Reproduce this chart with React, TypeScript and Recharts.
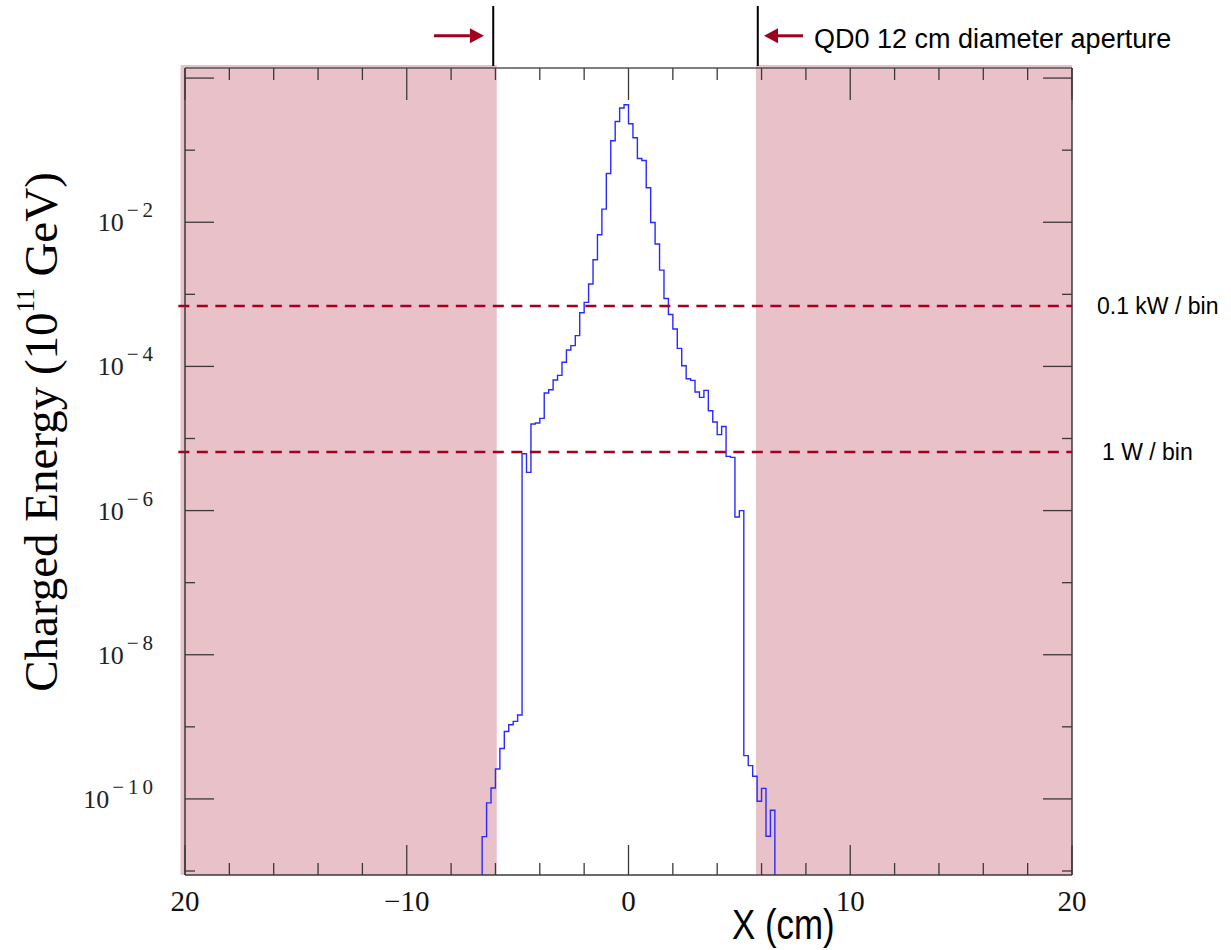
import React from "react";
import { LineChart, Line, XAxis, YAxis, ReferenceArea, ReferenceLine } from "recharts";

// histogram bin edges (cm), 0.2 cm bins
const binEdges = [
  -6.6, -6.4, -6.2, -6.0, -5.8, -5.6, -5.4, -5.2, -5.0, -4.8, -4.6, -4.4, -4.2, -4.0, -3.8, -3.6, -3.4,
  -3.2, -3.0, -2.8, -2.6, -2.4, -2.2, -2.0, -1.8, -1.6, -1.4, -1.2, -1.0, -0.8, -0.6, -0.4, -0.2, 0,
  0.2, 0.4, 0.6, 0.8, 1.0, 1.2, 1.4, 1.6, 1.8, 2.0, 2.2, 2.4, 2.6, 2.8, 3.0, 3.2, 3.4, 3.6, 3.8, 4.0,
  4.2, 4.4, 4.6, 4.8, 5.0, 5.2, 5.4, 5.6, 5.8, 6.0, 6.2, 6.4, 6.6,
];

// charged energy per bin (10^11 GeV), one value per bin
const binEnergy = [
  3.0e-11, 8.8e-11, 1.42e-10, 2.6e-10, 5.0e-10, 8.6e-10, 1.07e-9, 1.19e-9, 1.46e-9,
  6.15e-6, 3.39e-6, 1.59e-5, 1.64e-5, 1.9e-5, 4.28e-5, 4.75e-5, 6.47e-5, 7.5e-5, 1.14e-4, 1.69e-4,
  1.94e-4, 2.67e-4, 5.56e-4, 7.73e-4, 1.39e-3, 3.02e-3, 6.71e-3, 1.52e-2, 4.75e-2, 0.135, 0.25,
  0.384, 0.427,
  0.232, 0.149, 7.67e-2, 7.19e-2, 3.01e-2, 9.93e-3, 4.99e-3, 2.17e-3, 8.77e-4, 5.26e-4, 3.3e-4,
  1.78e-4, 1.02e-4, 6.75e-5, 6.4e-5, 4.42e-5, 3.72e-5, 4.65e-5, 2.43e-5, 1.69e-5, 1.13e-5, 1.47e-5,
  5.65e-6, 5.47e-6, 8.15e-7, 9.98e-7, 3.98e-10, 2.9e-10, 2.06e-10, 9.27e-11, 1.4e-10, 3.03e-11,
  6.95e-11,
];
const EMPTY = 1e-13; // empty bins sit below the axis

const xTicks = [-20, -18, -16, -14, -12, -10, -8, -6, -4, -2, 0, 2, 4, 6, 8, 10, 12, 14, 16, 18, 20];
const xLabelAt = [-20, -10, 0, 10, 20];
const xLabelText = ["20", "\u221210", "0", "10", "20"];

const yTicks = [1e-11, 1e-10, 1e-9, 1e-8, 1e-7, 1e-6, 1e-5, 1e-4, 1e-3, 1e-2, 1e-1, 1];
const yDomain = [8.8e-12, 1.38];

// power thresholds
const powerLevels = [6.9e-4, 6.5e-6];
const powerLabels = ["0.1 kW / bin", "1 W / bin"];

// outside the QD0 aperture
const shadedLeft = [-20.2, -5.94];
const shadedRight = [5.75, 20];
const apertureEdges = [-6.1, 5.83];

const PLOT_TOP = 68;
const FRAME = "#3a3a3a";
const ARROW = "#a0001e";
const DASH = "#a50021";
const SHADE = "rgb(170,15,45)";
const SERIF = "'Liberation Serif', 'Times New Roman', serif";
const SANS = "'Liberation Sans', Arial, sans-serif";

const rows = [
  { x: binEdges[0], e: EMPTY },
  ...binEnergy.map((e, i) => ({ x: binEdges[i], e })),
  { x: binEdges[binEdges.length - 1], e: EMPTY },
];

const isMajorX = (v: number) => Math.abs(v % 10) < 1e-9;

// bottom ticks also draw the matching mark on the top frame
function BottomTick({ x, y, payload }: any) {
  const v = payload.value;
  const idx = xLabelAt.indexOf(v);
  const major = isMajorX(v);
  return (
    <g>
      <line x1={x} x2={x} y1={y} y2={y - (major ? 30 : 12)} stroke={FRAME} strokeWidth={1.3} />
      <line x1={x} x2={x} y1={PLOT_TOP} y2={PLOT_TOP + (major ? 32 : 12)} stroke={FRAME} strokeWidth={1.3} />
      {idx >= 0 && (
        <text x={x} y={y + 36} textAnchor="middle" fontFamily={SERIF} fontSize={29} fill="#111">
          {xLabelText[idx]}
        </text>
      )}
    </g>
  );
}

function LeftTick({ x, y, payload }: any) {
  const exp = Math.round(Math.log10(payload.value));
  const major = exp % 2 === 0;
  return (
    <g>
      <line x1={x} x2={x + (major ? 29 : 10)} y1={y} y2={y} stroke={FRAME} strokeWidth={1.3} />
      {major && exp < 0 && (
        <text x={x - 28} y={y + 9} textAnchor="end" fontFamily={SERIF} fill="#222">
          <tspan fontSize={26}>10</tspan>
          <tspan fontSize={21} dx={3} dy={-14} letterSpacing={4}>
            {"\u2212" + -exp}
          </tspan>
        </text>
      )}
    </g>
  );
}

function RightTick({ x, y, payload }: any) {
  const exp = Math.round(Math.log10(payload.value));
  const major = exp % 2 === 0;
  return <line x1={x} x2={x - (major ? 29 : 10)} y1={y} y2={y} stroke={FRAME} strokeWidth={1.3} />;
}

function XTitle() {
  return (
    <text transform="translate(732,939) scale(0.83,1)" fontFamily={SANS} fontSize={42} fill="#000">
      X (cm)
    </text>
  );
}

function YTitle() {
  return (
    <text
      transform="translate(57,432) rotate(-90)"
      textAnchor="middle"
      fontFamily={SERIF}
      fontSize={47}
      fill="#000"
    >
      Charged Energy (10
      <tspan fontSize={25} dy={-23}>11</tspan>
      <tspan dy={23}> GeV)</tspan>
    </text>
  );
}

function Arrow(props: any) {
  const { x1, y1, x2, y2, caption } = props;
  const dir = Math.sign(x2 - x1);
  const head = 14;
  return (
    <g>
      <line x1={x1} y1={y1} x2={x2 - dir * head} y2={y2} stroke={ARROW} strokeWidth={3} />
      <polygon
        points={`${x2},${y2} ${x2 - dir * head},${y2 - 7.5} ${x2 - dir * head},${y2 + 7.5}`}
        fill={ARROW}
      />
      {caption && (
        <text x={x1 + 11} y={y1 + 12} fontFamily={SANS} fontSize={27} fill="#000">
          {caption}
        </text>
      )}
    </g>
  );
}

export default function App() {
  return (
    <div style={{ width: 1231, height: 950 }}>
      <style>{"body{margin:0}"}</style>
      <LineChart
        width={1231}
        height={950}
        data={rows}
        margin={{ top: PLOT_TOP, right: 0, bottom: 0, left: 0 }}
      >
        <XAxis
          xAxisId="b"
          dataKey="x"
          type="number"
          domain={[-20, 20]}
          ticks={xTicks}
          interval={0}
          height={75}
          tickSize={0}
          tickMargin={0}
          tickLine={false}
          axisLine={{ stroke: FRAME, strokeWidth: 1.5 }}
          tick={<BottomTick />}
          allowDataOverflow
          label={<XTitle />}
        />
        <YAxis
          yAxisId="l"
          type="number"
          scale="log"
          domain={yDomain}
          ticks={yTicks}
          interval={0}
          width={185}
          tickSize={0}
          tickMargin={0}
          tickLine={false}
          axisLine={{ stroke: FRAME, strokeWidth: 1.5 }}
          tick={<LeftTick />}
          allowDataOverflow
          label={<YTitle />}
        />
        <YAxis
          yAxisId="r"
          orientation="right"
          type="number"
          scale="log"
          domain={yDomain}
          ticks={yTicks}
          interval={0}
          width={159}
          tickSize={0}
          tickMargin={0}
          tickLine={false}
          axisLine={{ stroke: FRAME, strokeWidth: 1.5 }}
          tick={<RightTick />}
          allowDataOverflow
        />

        {/* top frame */}
        <ReferenceLine
          xAxisId="b"
          yAxisId="l"
          y={yDomain[1]}
          stroke="#555"
          strokeWidth={1.3}
          ifOverflow="visible"
        />

        <Line
          xAxisId="b"
          yAxisId="l"
          type="stepAfter"
          dataKey="e"
          stroke="#2a2aff"
          strokeWidth={1.4}
          dot={false}
          isAnimationActive={false}
        />

        {/* region outside the magnet aperture */}
        <ReferenceArea
          xAxisId="b"
          yAxisId="l"
          x1={shadedLeft[0]}
          x2={shadedLeft[1]}
          y1={yDomain[0]}
          y2={1.52}
          ifOverflow="visible"
          fill={SHADE}
          fillOpacity={0.26}
          stroke="none"
        />
        <ReferenceArea
          xAxisId="b"
          yAxisId="l"
          x1={shadedRight[0]}
          x2={shadedRight[1]}
          y1={yDomain[0]}
          y2={1.52}
          ifOverflow="visible"
          fill={SHADE}
          fillOpacity={0.26}
          stroke="none"
        />

        {powerLevels.map((p, i) => (
          <ReferenceLine
            key={p}
            xAxisId="b"
            yAxisId="l"
            segment={[{ x: -20.3, y: p }, { x: 20, y: p }]}
            ifOverflow="visible"
            stroke={DASH}
            strokeWidth={2.5}
            strokeDasharray="11 7.5"
            label={{
              value: powerLabels[i],
              position: "right",
              offset: i === 0 ? 25 : 30,
              fill: "#000",
              fontSize: 23,
              fontFamily: SANS,
            }}
          />
        ))}

        {apertureEdges.map((a) => (
          <ReferenceLine
            key={a}
            xAxisId="b"
            yAxisId="l"
            segment={[{ x: a, y: 1.47 }, { x: a, y: 10 }]}
            ifOverflow="visible"
            stroke="#000"
            strokeWidth={2}
          />
        ))}

        <ReferenceLine
          xAxisId="b"
          yAxisId="l"
          segment={[{ x: -8.77, y: 3.86 }, { x: -6.52, y: 3.86 }]}
          ifOverflow="visible"
          shape={(p: any) => <Arrow {...p} />}
        />
        <ReferenceLine
          xAxisId="b"
          yAxisId="l"
          segment={[{ x: 7.87, y: 3.86 }, { x: 6.11, y: 3.86 }]}
          ifOverflow="visible"
          shape={(p: any) => <Arrow {...p} caption="QD0 12 cm diameter aperture" />}
        />
      </LineChart>
    </div>
  );
}
